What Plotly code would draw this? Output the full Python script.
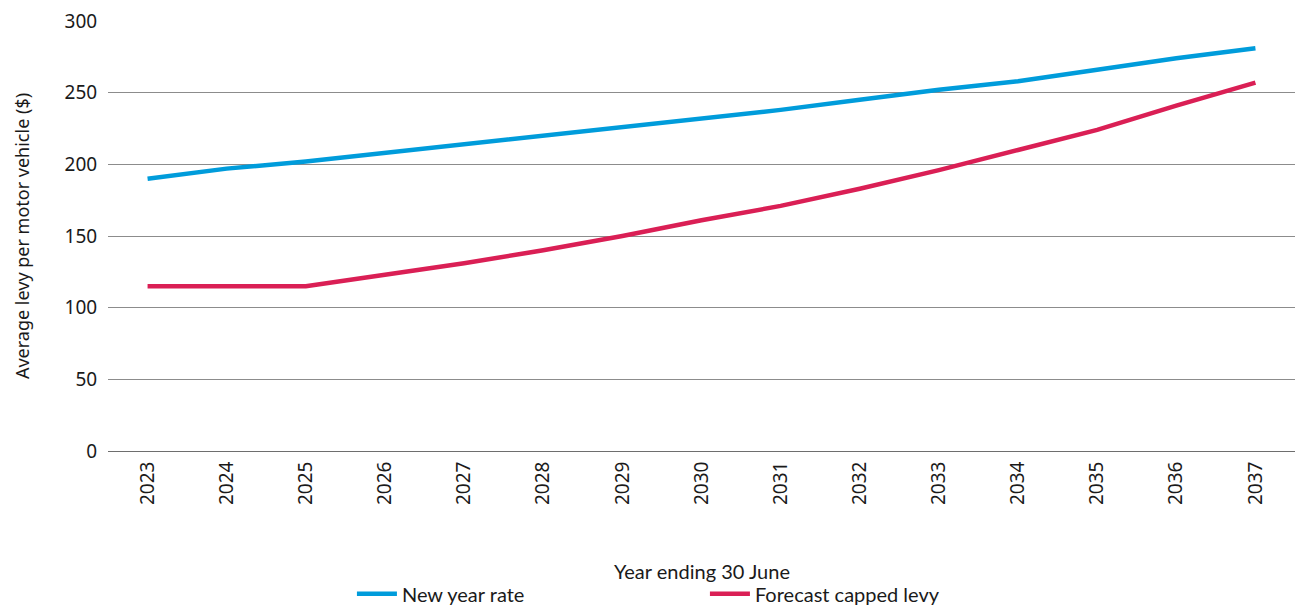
import plotly.graph_objects as go

years = [str(y) for y in range(2023, 2038)]
new_year_rate = [190, 197, 202, 208, 214, 220, 226, 232, 238, 245, 252, 258, 266, 274, 281]
forecast_capped = [115, 115, 115, 123, 131, 140, 150, 161, 171, 183, 196, 210, 224, 241, 257]
x_title = "Year ending 30 June"

fig = go.Figure()
fig.add_trace(go.Scatter(x=years, y=new_year_rate, mode="lines", name="New year rate",
                         line=dict(color="#009CDB", width=4.5)))
fig.add_trace(go.Scatter(x=years, y=forecast_capped, mode="lines", name="Forecast capped levy",
                         line=dict(color="#DA1F55", width=4.5)))

fig.update_layout(
    width=1295, height=607,
    margin=dict(l=108, r=0, t=21, b=156, autoexpand=False),
    paper_bgcolor="white", plot_bgcolor="white",
    font=dict(family="Noto Sans", size=19, color="#1a1a1a"),
    showlegend=True,
    legend=dict(orientation="h", xref="paper", x=0.2055, xanchor="left",
                yref="paper", y=-0.332, yanchor="middle",
                font=dict(family="Lato", size=20, color="#1a1a1a"),
                entrywidth=298, entrywidthmode="pixels", itemwidth=40,
                bgcolor="rgba(0,0,0,0)"),
    xaxis=dict(type="category", range=[-0.5, 14.5], tickangle=-90, showgrid=False, showline=False,
               automargin=False,
               ticks="outside", ticklen=2, tickcolor="rgba(0,0,0,0)",
               tickfont=dict(family="Noto Sans", size=19)),
    yaxis=dict(range=[0, 300], dtick=50, showgrid=True, gridcolor="#8c8c8c", gridwidth=1,
               automargin=False,
               zeroline=True, zerolinecolor="#6e6e6e", zerolinewidth=1,
               showline=False, ticks="outside", ticklen=6, tickcolor="rgba(0,0,0,0)",
               tickfont=dict(family="Noto Sans", size=19),
               title=dict(text="Average levy per motor vehicle ($)", standoff=30,
                          font=dict(family="Noto Sans", size=18))),
    annotations=[dict(text=x_title, xref="paper", yref="paper", x=0.5, y=-0.28,
                      xanchor="center", yanchor="middle", showarrow=False,
                      font=dict(family="Lato", size=20, color="#1a1a1a"))],
)

fig.write_html("out.html")
